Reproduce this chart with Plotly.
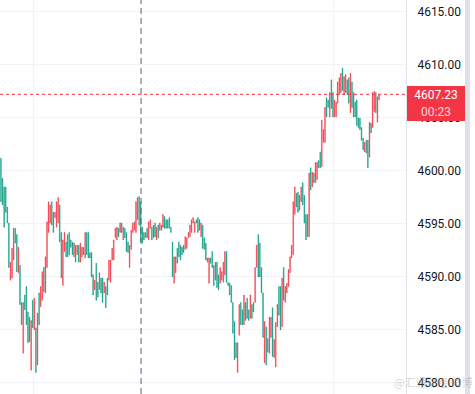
import plotly.graph_objects as go

# ---- data (price per candle) ----
opens = [
    4601.2, 4599.3, 4598.5, 4598.5, 4596.6, 4595.1, 4589.7, 4589.9, 4591.6, 4594.6,
    4594.0, 4590.4, 4591.1, 4587.6, 4582.8, 4588.3, 4589.1, 4586.7, 4586.2, 4581.2,
    4587.8, 4585.0, 4585.2, 4581.7, 4588.5, 4587.2, 4587.8, 4590.9, 4588.5, 4590.9,
    4594.2, 4595.1, 4597.1, 4596.1, 4595.6, 4594.7, 4595.1, 4596.8, 4594.2, 4589.2,
    4592.4, 4593.3, 4594.0, 4594.2, 4593.5, 4593.3, 4591.9, 4593.0, 4592.1, 4593.0,
    4591.4, 4591.9, 4592.8, 4591.8, 4594.2, 4594.2, 4592.3, 4592.3, 4590.2, 4588.8,
    4591.3, 4589.5, 4588.8, 4589.9, 4589.9, 4588.5, 4589.1, 4589.9, 4589.7, 4589.5,
    4591.6, 4591.6, 4593.7, 4593.5, 4594.6, 4594.2, 4595.1, 4593.5, 4594.6, 4594.2,
    4593.3, 4590.9, 4592.6, 4594.2, 4594.4, 4594.2, 4595.4, 4597.6, 4597.1, 4594.7,
    4594.2, 4593.7, 4594.6, 4593.5, 4594.6, 4594.7, 4594.9, 4595.1, 4593.5, 4594.9,
    4594.4, 4594.4, 4594.7, 4595.7, 4595.4, 4595.4, 4595.6, 4594.7, 4593.3, 4589.4,
    4590.4, 4592.7, 4593.3, 4593.0, 4592.8, 4593.0, 4592.6, 4592.7, 4593.7, 4593.8,
    4594.2, 4595.1, 4594.2, 4595.4, 4595.6, 4595.4, 4593.8, 4594.9, 4593.7, 4593.2,
    4591.4, 4589.4, 4591.8, 4592.4, 4591.1, 4589.7, 4591.4, 4590.2, 4589.4, 4589.7,
    4589.5, 4590.2, 4592.4, 4589.5, 4589.4, 4589.2, 4587.6, 4585.8, 4583.8, 4581.0,
    4584.5, 4587.6, 4586.9, 4585.5, 4587.6, 4588.0, 4586.9, 4586.1, 4587.4, 4587.6,
    4587.6, 4590.9, 4594.0, 4593.2, 4590.9, 4588.5, 4581.9, 4585.3, 4584.2, 4582.8,
    4584.3, 4587.1, 4582.4, 4581.5, 4585.3, 4589.1, 4589.1, 4585.3, 4590.9, 4587.6,
    4588.5, 4589.1, 4590.4, 4591.8, 4592.1, 4595.9, 4597.9, 4598.0, 4596.3, 4597.1,
    4598.9, 4597.7, 4595.9, 4595.9, 4593.8, 4600.3, 4598.5, 4599.8, 4598.9, 4599.2,
    4601.0, 4601.8, 4600.4, 4602.7, 4602.7, 4606.9, 4606.7, 4605.1, 4608.6, 4607.4,
    4605.1, 4605.1, 4606.4, 4607.2, 4607.4, 4609.7, 4607.2, 4607.4, 4608.6, 4608.8,
    4605.5, 4608.4, 4607.4, 4606.5, 4606.7, 4605.0, 4605.0, 4604.1, 4603.1, 4601.8,
    4602.9, 4602.9, 4601.3, 4604.5, 4604.1, 4605.6, 4607.4, 4604.6, 4606.7,
]
closes = [
    4597.1, 4596.8, 4594.7, 4596.1, 4595.1, 4590.9, 4591.4, 4592.7, 4594.6, 4593.2,
    4590.5, 4592.8, 4587.4, 4585.5, 4587.6, 4586.9, 4585.5, 4583.8, 4583.9, 4585.9,
    4585.2, 4588.0, 4581.0, 4586.6, 4585.5, 4589.1, 4590.5, 4588.6, 4591.9, 4595.2,
    4597.1, 4596.8, 4594.9, 4594.2, 4596.1, 4597.1, 4597.5, 4593.3, 4589.9, 4593.5,
    4594.2, 4591.9, 4591.9, 4592.1, 4592.8, 4592.1, 4593.2, 4591.4, 4593.0, 4591.4,
    4593.2, 4592.8, 4592.1, 4594.2, 4592.1, 4591.8, 4591.8, 4590.0, 4588.3, 4589.7,
    4587.8, 4588.1, 4590.4, 4588.5, 4587.6, 4589.5, 4587.1, 4588.3, 4591.6, 4591.6,
    4592.7, 4593.5, 4594.6, 4594.7, 4593.8, 4595.1, 4594.2, 4594.7, 4593.7, 4592.4,
    4592.3, 4593.0, 4594.4, 4595.1, 4595.2, 4597.1, 4597.5, 4594.9, 4593.3, 4593.2,
    4593.5, 4594.2, 4593.7, 4595.2, 4595.4, 4593.5, 4593.7, 4593.8, 4594.7, 4593.7,
    4595.1, 4594.9, 4595.9, 4594.6, 4594.6, 4594.6, 4594.6, 4594.2, 4590.0, 4591.9,
    4591.9, 4591.3, 4591.9, 4591.6, 4592.1, 4592.3, 4593.8, 4593.7, 4594.2, 4594.9,
    4595.4, 4595.6, 4595.2, 4595.1, 4594.2, 4594.4, 4595.1, 4592.7, 4592.6, 4591.6,
    4591.8, 4591.8, 4591.3, 4590.9, 4589.2, 4591.4, 4589.0, 4588.8, 4590.9, 4590.5,
    4591.4, 4592.4, 4589.5, 4589.2, 4588.3, 4587.6, 4584.7, 4582.2, 4582.4, 4583.8,
    4587.4, 4585.5, 4585.5, 4588.3, 4585.9, 4586.1, 4585.9, 4588.3, 4586.1, 4586.7,
    4590.9, 4593.0, 4590.0, 4590.0, 4588.5, 4584.3, 4585.8, 4581.7, 4582.9, 4586.2,
    4586.2, 4582.5, 4584.1, 4585.7, 4587.4, 4586.4, 4585.0, 4589.9, 4587.8, 4589.1,
    4589.4, 4590.7, 4591.9, 4593.0, 4597.1, 4598.5, 4596.6, 4596.1, 4597.7, 4598.5,
    4596.8, 4595.1, 4593.5, 4593.8, 4599.8, 4598.2, 4599.9, 4598.9, 4600.8, 4600.8,
    4600.3, 4600.3, 4604.8, 4603.9, 4606.0, 4605.1, 4606.0, 4607.4, 4605.9, 4605.1,
    4606.7, 4606.5, 4608.4, 4608.8, 4609.2, 4607.6, 4608.9, 4609.1, 4607.2, 4606.4,
    4609.2, 4606.0, 4605.1, 4605.1, 4604.3, 4604.1, 4603.9, 4602.9, 4602.0, 4602.7,
    4601.7, 4600.3, 4604.6, 4603.6, 4607.4, 4607.5, 4605.5, 4607.0, 4607.23,
]
highs = [max(o, c) for o, c in zip(opens, closes)]
lows = [min(o, c) for o, c in zip(opens, closes)]
bar_index = list(range(len(opens)))

price_ticks = [4580, 4585, 4590, 4595, 4600, 4605, 4610, 4615]
time_grid = [20.8, 209.1]
crosshair_index = 88.2
last_price = closes[-1]
last_price_text = "4607.23"
countdown_text = "00:23"

UP = "#f23645"
DOWN = "#089981"

fig = go.Figure(go.Candlestick(
    x=bar_index, open=opens, high=highs, low=lows, close=closes,
    increasing=dict(line=dict(color=UP, width=0.4), fillcolor=UP),
    decreasing=dict(line=dict(color=DOWN, width=0.4), fillcolor=DOWN),
    whiskerwidth=0, hoverinfo="skip", showlegend=False,
))

fig.update_layout(
    width=475, height=394,
    margin=dict(l=0, r=69, t=0, b=0),
    paper_bgcolor="white", plot_bgcolor="white",
    font=dict(family="Roboto, Noto Sans, sans-serif", size=12, color="#131722"),
    hovermode=False,
    xaxis=dict(range=[-0.6, 255], rangeslider=dict(visible=False),
               tickvals=time_grid, showticklabels=False, ticks="",
               showgrid=True, gridcolor="#f0f3fa", gridwidth=1,
               zeroline=False, showline=False, fixedrange=True),
    yaxis=dict(side="right", range=[4578.96, 4616.13],
               tickvals=price_ticks, tickformat=".2f",
               showgrid=True, gridcolor="#f0f3fa", gridwidth=1,
               zeroline=False, showline=True, linecolor="#e0e3eb", linewidth=1,
               ticks="", ticklabelstandoff=8,
               tickfont=dict(size=12, color="#131722"), fixedrange=True),
    shapes=[
        dict(type="line", xref="x", yref="paper", x0=crosshair_index, x1=crosshair_index,
             y0=0, y1=1, line=dict(color="#5d606b", width=1, dash="6px,4px")),
        dict(type="line", xref="paper", yref="y", x0=0, x1=1, y0=last_price, y1=last_price,
             line=dict(color=UP, width=1, dash="dot")),
        dict(type="rect", xref="paper", yref="paper", x0=1.1453, x1=1.1576, y0=0, y1=1,
             fillcolor="#dfe1e8", line=dict(width=0), layer="above"),
    ],
    annotations=[
        dict(xref="paper", yref="y", x=1.0025, y=last_price, xanchor="left", yanchor="middle",
             text=last_price_text, showarrow=False, bgcolor=UP, width=58, height=17,
             borderpad=0, borderwidth=0, font=dict(color="white", size=12)),
        dict(xref="paper", yref="y", x=1.0025, y=last_price, xanchor="left", yanchor="middle",
             yshift=-18, text=countdown_text, showarrow=False, bgcolor=UP, width=58, height=18,
             borderpad=0, borderwidth=0, font=dict(color="#ffd3d8", size=12)),
        dict(xref="paper", yref="paper", x=0.965, y=0.03, xanchor="left", yanchor="middle",
             text="@汇通财经 微博", showarrow=False,
             font=dict(family="Noto Sans CJK SC", size=11, color="rgba(160,160,160,0.45)")),
    ],
)

fig.write_html(
    "out.html",
    config={"displayModeBar": False},
    post_script="document.body.style.margin='0';document.body.style.overflow='hidden';",
)
